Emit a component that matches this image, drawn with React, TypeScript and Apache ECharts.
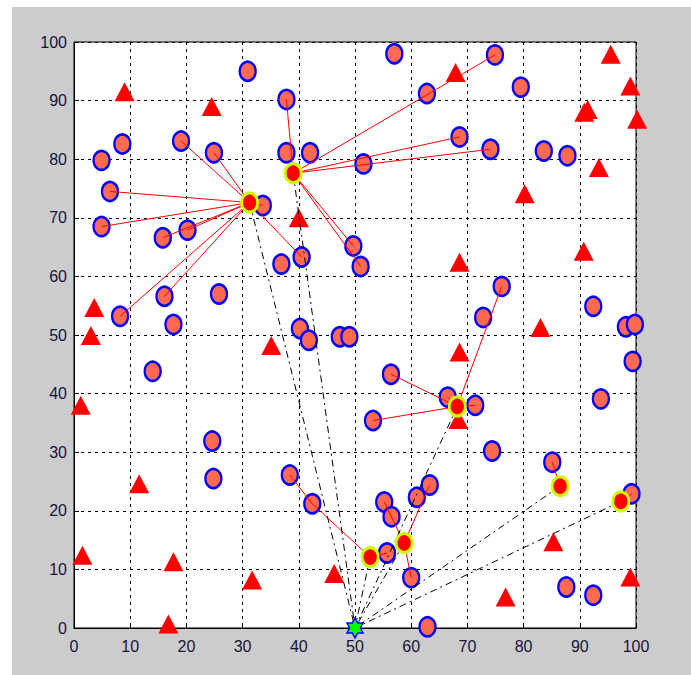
import React, { useEffect, useRef } from "react";
import * as echarts from "echarts";

const tickValues = [0, 10, 20, 30, 40, 50, 60, 70, 80, 90, 100];

const memberNodes: [number, number][] = [
  [30.9, 95.0], [19.05, 83.1], [24.9, 81.1], [8.6, 82.6], [4.9, 79.8], [6.4, 74.5],
  [4.9, 68.5], [57.0, 98.0], [62.8, 91.2], [37.8, 90.2], [37.8, 81.1], [42.0, 81.1],
  [51.5, 79.2], [33.6, 72.1], [74.9, 97.8], [79.5, 92.3], [68.6, 83.8], [74.1, 81.7],
  [83.6, 81.4], [87.8, 80.6], [49.7, 65.2], [51.0, 61.7], [40.5, 63.3], [36.9, 62.1],
  [40.2, 51.1], [41.8, 49.1], [47.3, 49.7], [49.0, 49.7], [56.4, 43.3], [53.2, 35.4],
  [15.8, 66.6], [20.2, 67.9], [16.1, 56.6], [25.8, 57.0], [8.2, 53.2], [17.7, 51.8],
  [14.0, 43.8], [76.1, 58.3], [72.8, 53.0], [92.4, 54.9], [98.2, 51.4], [99.8, 51.8],
  [99.4, 45.5], [93.75, 39.1], [66.5, 39.4], [71.4, 38.0], [24.6, 31.9], [24.8, 25.5],
  [38.4, 26.1], [42.4, 21.2], [55.7, 12.8], [55.2, 21.5], [56.5, 19.0], [61.0, 22.3],
  [63.3, 24.4], [60.0, 8.6], [62.9, 0.2], [74.4, 30.2], [85.1, 28.3], [99.2, 22.9],
  [87.6, 7.0], [92.4, 5.6],
];

const obstacleNodes: [number, number][] = [
  [9.0, 91.5], [24.5, 89.0], [40.0, 70.0], [67.9, 94.8], [95.5, 97.9], [99.0, 92.5],
  [91.4, 88.5], [90.8, 88.0], [100.2, 86.8], [93.4, 78.6], [80.2, 74.1], [68.6, 62.4],
  [90.7, 64.3], [83.0, 51.3], [68.6, 47.1], [68.4, 35.6], [35.1, 48.2], [3.6, 54.7],
  [3.0, 49.9], [1.2, 38.0], [11.6, 24.6], [1.5, 12.4], [17.7, 11.3], [31.7, 8.2],
  [16.8, 0.7], [46.3, 9.3], [85.3, 14.7], [99.0, 8.7], [76.8, 5.3],
];

const clusterHeads: [number, number][] = [
  [31.25, 72.6], [39.0, 77.6], [68.2, 37.8], [52.7, 12.1], [58.75, 14.5], [86.5, 24.2], [97.3, 21.6],
];

const baseStation: [number, number] = [50, 0];

// [fromPoint, toPoint] red membership links
const memberLinks: [[number, number], [number, number]][] = [
  [[31.25, 72.6], [19.05, 83.1]], [[31.25, 72.6], [24.9, 81.1]], [[31.25, 72.6], [6.4, 74.5]],
  [[31.25, 72.6], [4.9, 68.5]], [[31.25, 72.6], [15.8, 66.6]], [[31.25, 72.6], [20.2, 67.9]],
  [[31.25, 72.6], [8.2, 53.2]], [[31.25, 72.6], [16.1, 56.6]], [[31.25, 72.6], [40.5, 63.3]],
  [[31.25, 72.6], [33.6, 72.1]],
  [[39.0, 77.6], [37.8, 90.2]], [[39.0, 77.6], [74.9, 97.8]], [[39.0, 77.6], [68.6, 83.8]],
  [[39.0, 77.6], [74.1, 81.7]], [[39.0, 77.6], [49.7, 65.2]], [[39.0, 77.6], [51.0, 61.7]],
  [[68.2, 37.8], [76.1, 58.3]], [[68.2, 37.8], [66.5, 39.4]], [[68.2, 37.8], [71.4, 38.0]],
  [[68.2, 37.8], [56.4, 43.3]], [[68.2, 37.8], [53.2, 35.4]],
  [[52.7, 12.1], [42.4, 21.2]], [[42.4, 21.2], [38.4, 26.1]], [[52.7, 12.1], [55.7, 12.8]],
  [[58.75, 14.5], [55.2, 21.5]], [[58.75, 14.5], [63.3, 24.4]], [[58.75, 14.5], [60.0, 8.6]],
  [[86.5, 24.2], [85.1, 28.3]],
  [[97.3, 21.6], [99.2, 22.9]],
];

const starPath =
  "path://M0,-10 L2.9,-5 L8.66,-5 L5.8,0 L8.66,5 L2.9,5 L0,10 L-2.9,5 L-8.66,5 L-5.8,0 L-8.66,-5 L-2.9,-5 Z";

export default function App() {
  const ref = useRef<HTMLDivElement>(null);
  useEffect(() => {
    const chart = echarts.init(ref.current!, null, { renderer: "svg" });
    const font = "'Liberation Sans', Arial, sans-serif";
    const axisCommon = {
      type: "value",
      min: 0,
      max: 100,
      interval: 10,
      axisLine: { show: true, lineStyle: { color: "#000", width: 1 } },
      axisTick: { show: true, inside: true, length: 5, lineStyle: { color: "#000" } },
      splitLine: { show: true, lineStyle: { color: "#000", type: [3, 4], width: 1 } },
      axisLabel: {
        color: "#14143a",
        fontSize: 16,
        fontFamily: font,
        formatter: (v: number) => (tickValues.includes(v) ? String(v) : ""),
      },
    };
    chart.setOption({
      animation: false,
      backgroundColor: "#ffffff",
      graphic: [
        {
          type: "rect",
          z: -10,
          silent: true,
          shape: { x: 12, y: 7, width: 700, height: 700 },
          style: { fill: "#cccccc" },
        },
      ],
      grid: {
        left: 74,
        top: 42,
        width: 562,
        height: 586,
        show: true,
        backgroundColor: "#ffffff",
        borderColor: "#000",
        borderWidth: 1,
        z: 0,
      },
      xAxis: { ...axisCommon, axisLabel: { ...axisCommon.axisLabel, margin: 10 } },
      yAxis: { ...axisCommon, axisLabel: { ...axisCommon.axisLabel, margin: 7 } },
      series: [
        {
          type: "scatter",
          name: "members",
          clip: false,
          z: 2,
          symbol: "circle",
          symbolSize: [16, 19],
          itemStyle: { color: "#ff6a50", borderColor: "#0000ff", borderWidth: 2.5, opacity: 1 },
          data: memberNodes,
        },
        {
          type: "scatter",
          name: "obstacles",
          clip: false,
          z: 3,
          symbol: "triangle",
          symbolSize: [20, 19],
          itemStyle: { color: "#ff0000", opacity: 1 },
          data: obstacleNodes,
        },
        {
          type: "lines",
          coordinateSystem: "cartesian2d",
          z: 4,
          lineStyle: { color: "#ff0000", width: 1, opacity: 1 },
          data: memberLinks.map(([a, b]) => ({ coords: [a, b] })),
        },
        {
          type: "lines",
          coordinateSystem: "cartesian2d",
          z: 5,
          lineStyle: { color: "#000000", width: 1, type: [7, 4, 2, 4], opacity: 1 },
          data: clusterHeads.map((h) => ({ coords: [h, baseStation] })),
        },
        {
          type: "scatter",
          name: "heads",
          clip: false,
          z: 6,
          symbol: "circle",
          symbolSize: [16, 19],
          itemStyle: { color: "#ff0000", borderColor: "#ccff00", borderWidth: 3, opacity: 1 },
          data: clusterHeads,
        },
        {
          type: "scatter",
          name: "bs",
          clip: false,
          z: 7,
          symbol: starPath,
          symbolSize: [16, 20],
          itemStyle: { color: "#00ff00", borderColor: "#0000ff", borderWidth: 1.5, opacity: 1 },
          data: [baseStation],
        },
      ],
    });
    return () => chart.dispose();
  }, []);
  return (
    <div
      ref={ref}
      style={{ position: "fixed", left: 0, top: 0, width: 691, height: 675 }}
    />
  );
}
